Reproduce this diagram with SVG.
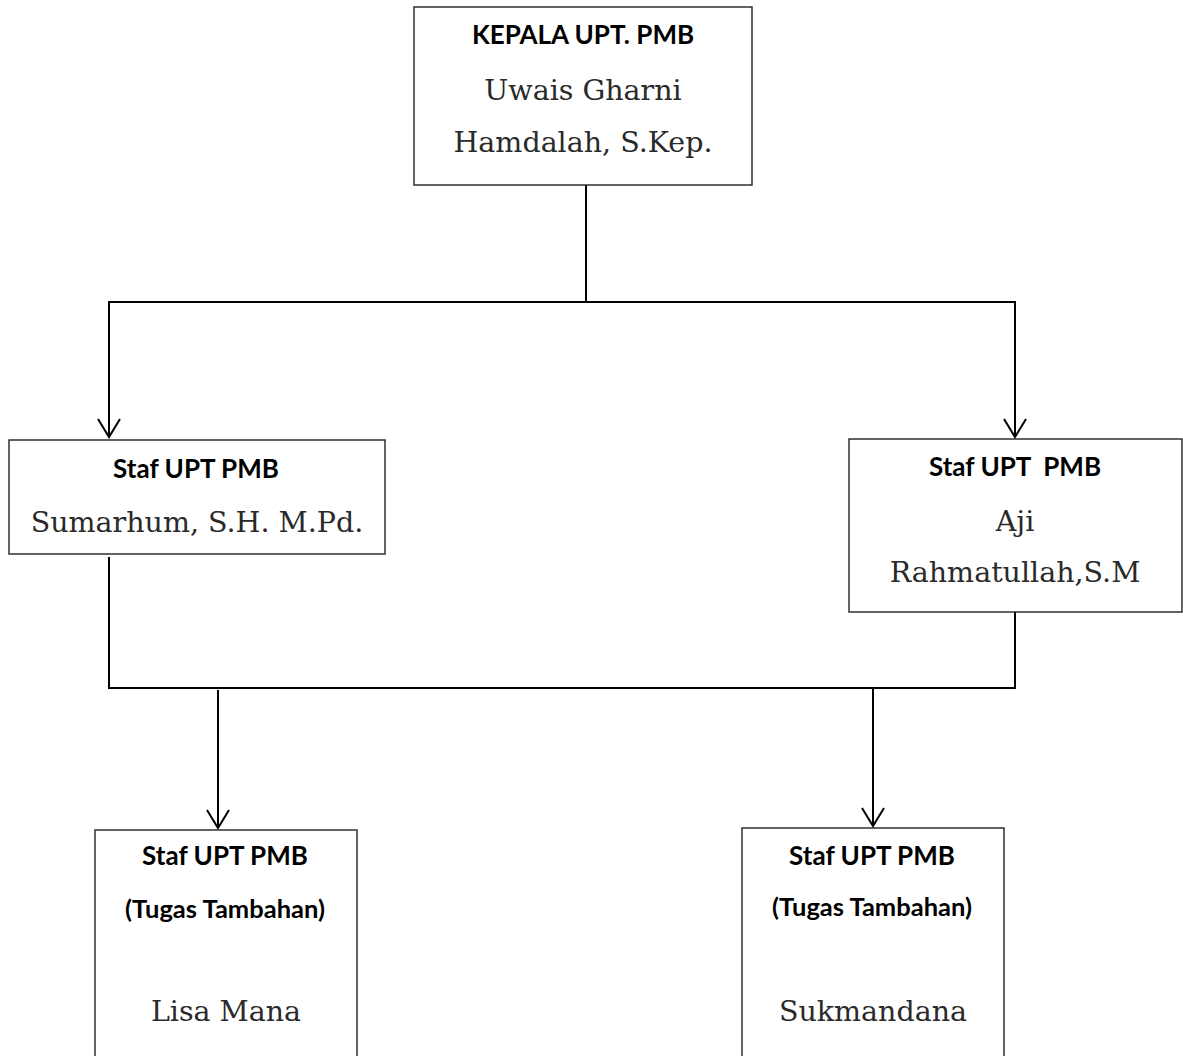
<svg xmlns="http://www.w3.org/2000/svg" width="1183" height="1056" viewBox="0 0 1183 1056">
<style>
.box{fill:#fff;stroke:#222;stroke-width:1.4}
.ttl{font-family:Lato,"Liberation Sans",sans-serif;font-weight:bold;font-size:26px;fill:#000;text-anchor:middle}
.sub{font-family:Lato,"Liberation Sans",sans-serif;font-weight:bold;font-size:25.5px;fill:#000;text-anchor:middle}
.nm{font-family:"DejaVu Serif","Liberation Serif",serif;font-size:28.5px;fill:#2a2a2a;text-anchor:middle}
.ln{fill:none;stroke:#000;stroke-width:2}
</style>
<defs>
<marker id="arr" markerUnits="userSpaceOnUse" markerWidth="24" markerHeight="26" viewBox="-20 -13 22 26" refX="0" refY="0" orient="auto">
<path d="M-18,-11 L0,0 L-18,11" fill="none" stroke="#000" stroke-width="2"/>
</marker>
</defs>
<rect width="1183" height="1056" fill="#fff"/>
<g id="connectors">
<path class="ln" d="M586,185 V302"/>
<path class="ln" d="M108,302 H1016"/>
<path class="ln" d="M109,302 V437" marker-end="url(#arr)"/>
<path class="ln" d="M1015,302 V437" marker-end="url(#arr)"/>
<path class="ln" d="M109,557 V688"/>
<path class="ln" d="M1015,612 V688"/>
<path class="ln" d="M108,688 H1016"/>
<path class="ln" d="M218,690 V828" marker-end="url(#arr)"/>
<path class="ln" d="M873,688 V826" marker-end="url(#arr)"/>
</g>
<g id="kepala">
<rect class="box" x="414" y="7" width="338" height="178"/>
<text class="ttl" x="583" y="44">KEPALA UPT. PMB</text>
<text class="nm" x="583" y="100">Uwais Gharni</text>
<text class="nm" x="583" y="152">Hamdalah, S.Kep.</text>
</g>
<g id="staf-left">
<rect class="box" x="9" y="440" width="376" height="114"/>
<text class="ttl" x="196" y="478">Staf UPT PMB</text>
<text class="nm" x="197" y="532">Sumarhum, S.H. M.Pd.</text>
</g>
<g id="staf-right">
<rect class="box" x="849" y="439" width="333" height="173"/>
<text class="ttl" x="1015" y="476" xml:space="preserve">Staf UPT  PMB</text>
<text class="nm" x="1015" y="531">Aji</text>
<text class="nm" x="1015" y="582">Rahmatullah,S.M</text>
</g>
<g id="tambahan-left">
<rect class="box" x="95" y="830" width="262" height="240"/>
<text class="ttl" x="225" y="865">Staf UPT PMB</text>
<text class="sub" x="225" y="918">(Tugas Tambahan)</text>
<text class="nm" x="226" y="1021">Lisa Mana</text>
</g>
<g id="tambahan-right">
<rect class="box" x="742" y="828" width="262" height="240"/>
<text class="ttl" x="872" y="865">Staf UPT PMB</text>
<text class="sub" x="872" y="916">(Tugas Tambahan)</text>
<text class="nm" x="873" y="1021">Sukmandana</text>
</g>
</svg>
